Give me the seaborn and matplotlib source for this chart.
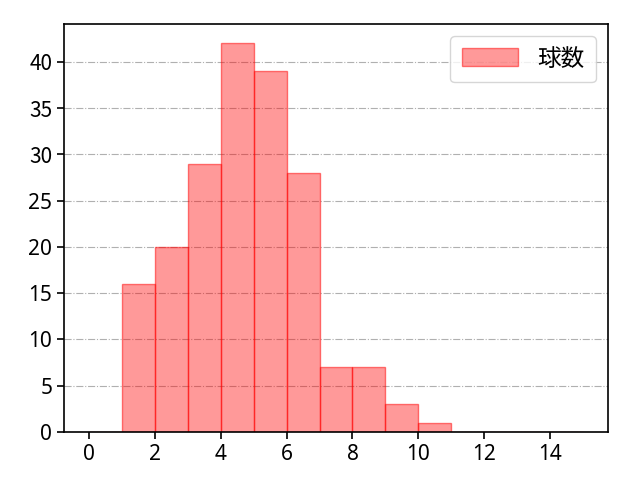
import numpy as np
import pandas as pd
import matplotlib
matplotlib.use("Agg")
import matplotlib.pyplot as plt
import seaborn as sns

# 球数ごとの打席数
pitches = [1, 2, 3, 4, 5, 6, 7, 8, 9, 10]
counts = [16, 20, 29, 42, 39, 28, 7, 7, 3, 1]

df = pd.DataFrame({"球数": np.repeat(pitches, counts)})

sns.set_style("ticks", {"axes.edgecolor": "black", "text.color": "black",
                        "xtick.color": "black", "ytick.color": "black"})
plt.rcParams["font.family"] = ["Noto Sans CJK JP", "DejaVu Sans"]

fig, ax = plt.subplots(figsize=(6.4, 4.8), dpi=100)
sns.histplot(data=df, x="球数", bins=15, binrange=(0, 15),
             ax=ax, color="red", linewidth=1, label="球数")
for p in ax.patches:
    p.set_facecolor((1, 0, 0, 0.4))
    p.set_edgecolor((1, 0, 0, 0.5))
ax.set_xlim(-0.75, 15.75)
ax.set_xticks(range(0, 15, 2))
ax.set_xlabel("")
ax.set_ylabel("")
ax.grid(axis="y", linestyle="-.", color="#b0b0b0")
ax.set_axisbelow(True)
ax.tick_params(labelsize=15, length=5, width=1.2)
for lab in ax.get_xticklabels() + ax.get_yticklabels():
    lab.set_family(["Noto Sans", "DejaVu Sans"])
for s in ax.spines.values():
    s.set_linewidth(1.2)
ax.legend(loc="upper right", fontsize=17, borderpad=0.5,
          handlelength=2.4, handleheight=0.8)
fig.subplots_adjust(left=0.1, right=0.95, bottom=0.1, top=0.95)
fig.savefig("out.png", dpi=100)
